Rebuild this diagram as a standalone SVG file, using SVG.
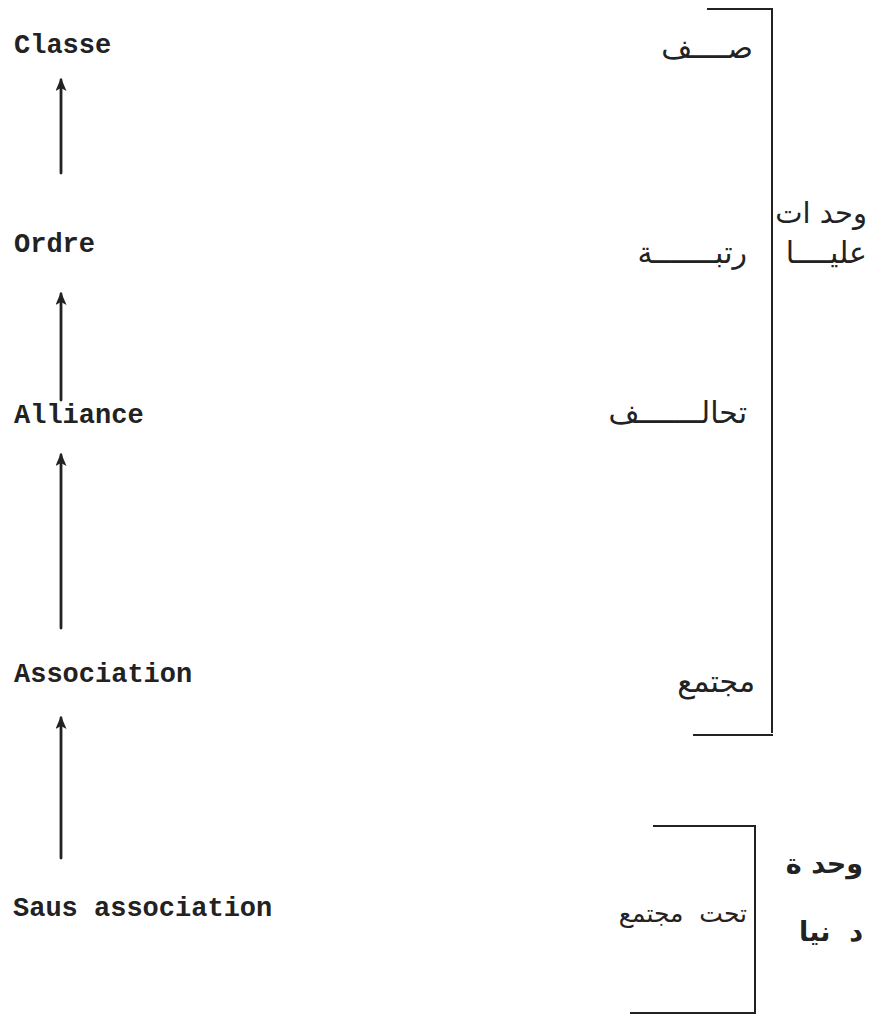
<svg xmlns="http://www.w3.org/2000/svg" width="882" height="1019" viewBox="0 0 882 1019">
<style>
.lat{font-family:"Liberation Mono","DejaVu Sans Mono",monospace;font-size:27px;font-weight:bold;fill:#222;}
.ar{font-family:"DejaVu Sans","Noto Sans",sans-serif;font-size:30px;fill:#222;text-anchor:end;}
.arb{font-family:"DejaVu Sans","Noto Sans",sans-serif;font-size:27px;font-weight:bold;fill:#222;text-anchor:end;}
.ln{stroke:#222;stroke-width:2.8;fill:none;stroke-linecap:round;}
.br{stroke:#222;stroke-width:2;fill:none;}
</style>
<defs>
<marker id="ah" viewBox="0 0 13 11" refX="11" refY="5.5" markerWidth="13" markerHeight="11" markerUnits="userSpaceOnUse" orient="auto">
<path d="M13,5.5 L0,0 L3,5.5 L0,11 Z" fill="#222"/>
</marker>
</defs>
<rect width="882" height="1019" fill="#fff"/>
<g id="n-classe"><text class="lat" x="14" y="53">Classe</text></g>
<g id="n-ordre"><text class="lat" x="14" y="252">Ordre</text></g>
<g id="n-alliance"><text class="lat" x="14" y="423">Alliance</text></g>
<g id="n-association"><text class="lat" x="14" y="682">Association</text></g>
<g id="n-saus"><text class="lat" x="13" y="916">Saus association</text></g>
<g id="connectors">
<line class="ln" x1="61" y1="173" x2="61" y2="80" marker-end="url(#ah)"/>
<line class="ln" x1="61" y1="400" x2="61" y2="294" marker-end="url(#ah)"/>
<line class="ln" x1="61" y1="628" x2="61" y2="455" marker-end="url(#ah)"/>
<line class="ln" x1="61" y1="858" x2="61" y2="718" marker-end="url(#ah)"/>
</g>
<g id="bracket-upper">
<path class="br" d="M707,9 H772 V733 M693,735 H773"/>
<text class="ar" x="753" y="58">صــــف</text>
<text class="ar" x="747" y="263">رتبـــــــة</text>
<text class="ar" x="747" y="423">تحالـــــــف</text>
<text class="ar" x="755" y="692">مجتمع</text>
<text class="ar" x="867" y="223" style="font-size:29px">وحد ات</text>
<text class="ar" x="867" y="263">عليــــا</text>
</g>
<g id="bracket-lower">
<path class="br" d="M653,826 H755 V1013 H630"/>
<text class="ar" x="747" y="922" style="font-size:25px">تحت&#160;&#160;مجتمع</text>
<text class="arb" x="863" y="873">وحد ة</text>
<text class="arb" x="863" y="941">د&#160;&#160;نيا</text>
</g>
</svg>
